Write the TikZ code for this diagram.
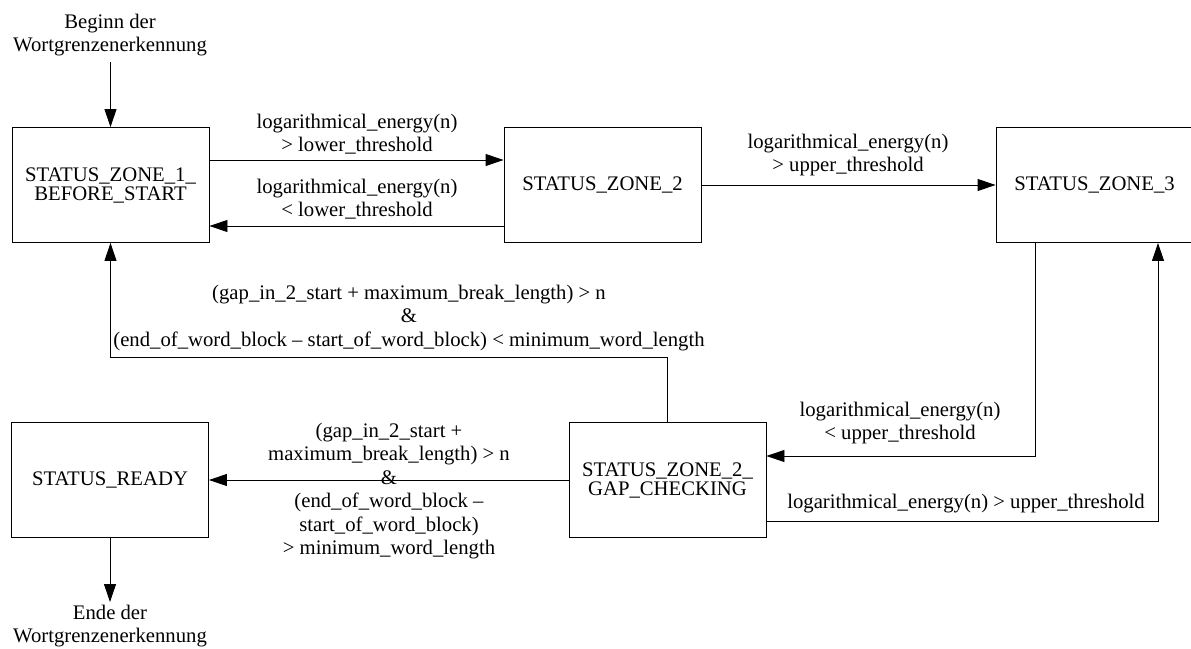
\documentclass[tikz,border=0pt]{standalone}
\usepackage{fontspec}
\setmainfont{Liberation Serif}
\usetikzlibrary{arrows.meta}
\begin{document}
\begin{tikzpicture}[x=1pt,y=-1pt,
  statebox/.style={draw=black, line width=0.9pt, minimum width=197pt, minimum height=115pt, inner sep=0pt, align=center, font=\fontsize{20.7}{19}\selectfont},
  lbl/.style={inner sep=0pt, align=center, font=\fontsize{20.7}{23.5}\selectfont},
  arr/.style={draw=black, line width=0.9pt, -{Triangle[length=18pt,width=12pt]}},
  ln/.style={draw=black, line width=0.9pt}]
\useasboundingbox (0,0) rectangle (1191,648);
% states
\node[statebox] (z1) at (110.5,185) {STATUS\_ZONE\_1\_\\BEFORE\_START};
\node[statebox] (z2) at (602.5,185) {STATUS\_ZONE\_2};
\node[statebox] (z3) at (1094.5,185) {STATUS\_ZONE\_3};
\node[statebox] (rdy) at (110,480) {STATUS\_READY};
\node[statebox] (gap) at (667.5,480) {STATUS\_ZONE\_2\_\\GAP\_CHECKING};
% start / end texts
\node[lbl] (begin) at (110,35) {Beginn der\\Wortgrenzenerkennung};
\coordinate (bstart) at (110.5,62);
\node[lbl] (ende) at (110,626) {Ende der\\Wortgrenzenerkennung};
\coordinate (eend) at (110,602);
\coordinate (turn) at (667.5,357);
% connectors
\draw[arr] (bstart) -- (z1.north);
\draw[arr] ([yshift=25pt]z1.east) -- ([yshift=25pt]z2.west);
\draw[arr] ([yshift=-41pt]z2.west) -- ([yshift=-41pt]z1.east);
\draw[arr] (z2.east) -- (z3.west);
\draw[arr] ([xshift=-59.5pt]z3.south) |- ([yshift=24pt]gap.east);
\draw[arr] ([yshift=-41pt]gap.east) -| ([xshift=63.5pt]z3.south);
\draw[arr] (gap.north) -- (turn) -| (z1.south);
\draw[arr] (gap.west) -- (rdy.east);
\draw[arr] (rdy.south) -- (eend);
% labels
\node[lbl] (la) at (357,134) {logarithmical\_energy(n)\\> lower\_threshold};
\node[lbl] (lb) at (357,199) {logarithmical\_energy(n)\\< lower\_threshold};
\node[lbl] (lc) at (848,155) {logarithmical\_energy(n)\\> upper\_threshold};
\node[lbl] (ld) at (409,318) {(gap\_in\_2\_start + maximum\_break\_length) > n\\\&\\(end\_of\_word\_block \textendash{} start\_of\_word\_block) < minimum\_word\_length};
\node[lbl] (le) at (900,423) {logarithmical\_energy(n)\\< upper\_threshold};
\node[lbl] (lf) at (966,504) {logarithmical\_energy(n) > upper\_threshold};
\node[lbl] (lg) at (389,491) {(gap\_in\_2\_start +\\maximum\_break\_length) > n\\\&\\(end\_of\_word\_block \textendash\\start\_of\_word\_block)\\> minimum\_word\_length};
\end{tikzpicture}
\end{document}
